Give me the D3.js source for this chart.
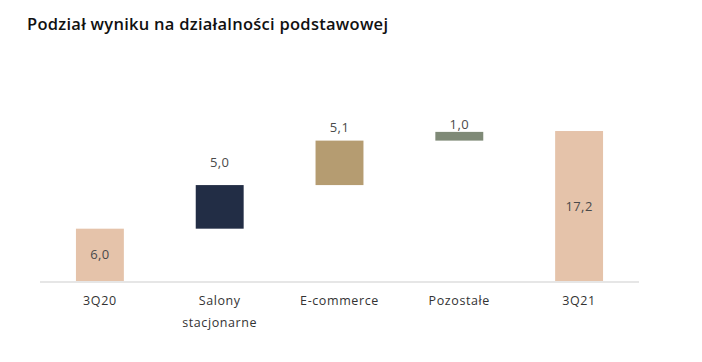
<!DOCTYPE html>
<html>
<head>
<meta charset="utf-8">
<script src="https://cdn.jsdelivr.net/npm/d3@7"></script>
<style>
  html, body { margin: 0; padding: 0; background: #fff; }
  #chart { width: 702px; height: 362px; }
  text { font-family: "Open Sans", "DejaVu Sans", sans-serif; }
</style>
</head>
<body>
<div id="chart"></div>
<script>
// data
var categories = ['3Q20', 'Salony stacjonarne', 'E-commerce', 'Pozostałe', '3Q21'];
var values = [6.0, 5.0, 5.1, 1.0, 17.2];
var kinds = ['total', 'step', 'step', 'step', 'total'];
var valueLabels = ['6,0', '5,0', '5,1', '1,0', '17,2'];
var colors = ['#e5c3aa', '#222d45', '#b59c71', '#7f8a77', '#e5c3aa'];
var labelLift = [0, 18, 9, 3, 0];

var width = 702,
    height = 362,
    baseY = 281;

var svg = d3.select('#chart').append('svg')
    .attr('width', width)
    .attr('height', height);

svg.append('text')
    .attr('x', 27)
    .attr('y', 30)
    .attr('font-size', 16.5)
    .attr('font-weight', 600)
    .attr('fill', '#111')
    .attr('textLength', 361)
    .attr('lengthAdjust', 'spacing')
    .text('Podział wyniku na działalności podstawowej');

// running start/end for the waterfall
var running = 0;
var bars = values.map(function(v, i) {
    var start, end;
    if (kinds[i] == 'total') {
        start = 0; end = v; running = v;
    } else {
        start = running; end = running + v; running = end;
    }
    return { cat: categories[i], start: start, end: end, i: i };
});

var x = d3.scaleBand()
    .domain(categories)
    .range([40, 639])
    .paddingInner(0.6)
    .paddingOuter(0.3);

var y = d3.scaleLinear()
    .domain([0, 20])
    .range([baseY, baseY - 174.4]);

// baseline
svg.append('line')
    .attr('x1', 40).attr('x2', 639)
    .attr('y1', baseY + 1).attr('y2', baseY + 1)
    .attr('stroke', '#e6e6e6')
    .attr('stroke-width', 2);

svg.selectAll('rect.bar')
    .data(bars)
    .enter().append('rect')
    .attr('class', 'bar')
    .attr('x', function(d) { return x(d.cat); })
    .attr('width', x.bandwidth())
    .attr('y', function(d) { return y(d.end); })
    .attr('height', function(d) { return y(d.start) - y(d.end); })
    .attr('fill', function(d) { return colors[d.i]; });

svg.selectAll('text.val')
    .data(bars)
    .enter().append('text')
    .attr('class', 'val')
    .attr('text-anchor', 'middle')
    .attr('font-size', 13)
    .attr('letter-spacing', 0.4)
    .attr('fill', '#4a4a4a')
    .attr('x', function(d) { return x(d.cat) + x.bandwidth() / 2; })
    .attr('y', function(d) {
        if (kinds[d.i] == 'total') return (y(d.start) + y(d.end)) / 2 + 4.5;
        return y(d.end) - labelLift[d.i];
    })
    .text(function(d) { return valueLabels[d.i]; });

// category labels, wrapped on space for the two-word one
var catText = svg.selectAll('text.cat')
    .data(categories)
    .enter().append('text')
    .attr('class', 'cat')
    .attr('text-anchor', 'middle')
    .attr('font-size', 12.5)
    .attr('letter-spacing', 0.6)
    .attr('fill', '#333')
    .attr('x', function(d) { return x(d) + x.bandwidth() / 2; })
    .attr('y', 305);

catText.each(function(d) {
    var words = d.split(' '),
        t = d3.select(this);
    if (d == 'E-commerce') words = [d];
    words.forEach(function(w, k) {
        t.append('tspan')
            .attr('x', x(d) + x.bandwidth() / 2)
            .attr('dy', k == 0 ? 0 : 21.5)
            .text(w);
    });
});
</script>
</body>
</html>
